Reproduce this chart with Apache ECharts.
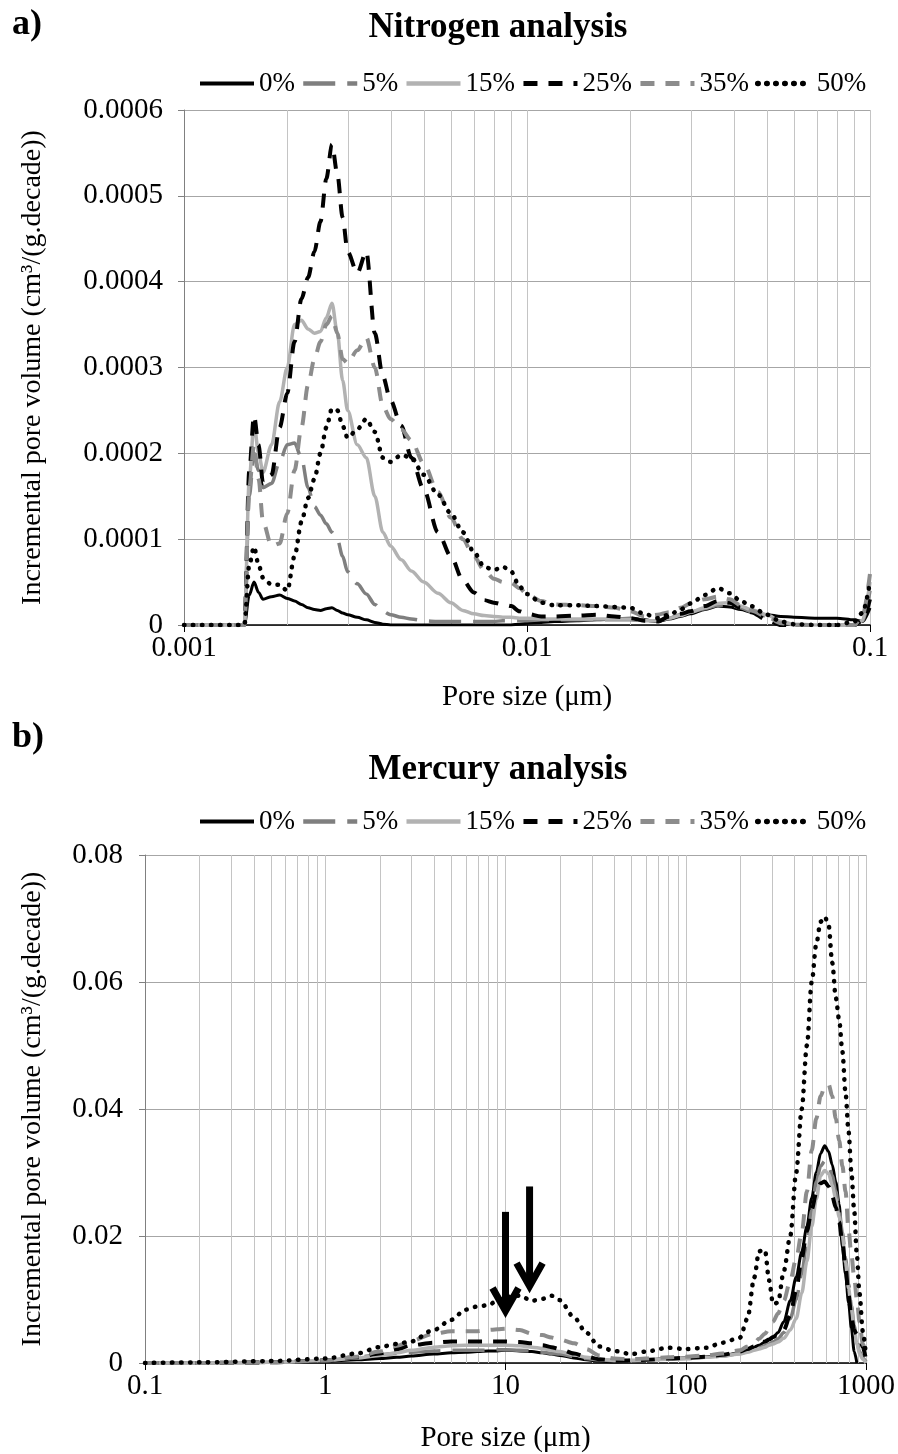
<!DOCTYPE html>
<html>
<head>
<meta charset="utf-8">
<script src="https://cdn.jsdelivr.net/npm/echarts@6/dist/echarts.min.js"></script>
<style>html,body{margin:0;padding:0;background:#fff}#c{width:898px;height:1454px}</style>
</head>
<body>
<div id="c"></div>
<script>
const SERIES_NAMES = ['0%', '5%', '15%', '25%', '35%', '50%'];

// a) Nitrogen analysis — pore size (µm); volumes in 1e-6 cm3/(g.decade)
const N2_UNIT = 1e-6;
const n2Size = [0.001,0.0014,0.0015,0.00155,0.0016,0.00165,0.0017,0.0018,0.0019,0.002,0.0021,0.0022,0.0023,0.0024,0.0025,0.0026,0.0027,0.0028,0.0029,0.003,0.0032,0.0034,0.0036,0.0038,0.004,0.0043,0.0046,0.005,0.0055,0.006,0.0065,0.007,0.0075,0.008,0.0085,0.009,0.0095,0.01,0.011,0.012,0.014,0.016,0.018,0.02,0.022,0.024,0.026,0.028,0.03,0.033,0.036,0.039,0.042,0.045,0.05,0.055,0.06,0.07,0.08,0.09,0.095,0.1];
const n2_0  = [0,0,0,35,50,38,30,33,35,31, 28,24,20,18,17,19,20,17,14,12, 9,6,3,1,0,0,0,0,0,0, 0,0,0,0,0,0,1,2,3,4, 5,6,7,8,6,4,7,10,13,18, 22,21,18,15,12,10,9,8,8,6, 4,20];
const n2_5  = [0,0,0,150,200,180,160,165,190,210, 212,195,160,138,128,118,108,100,80,62, 48,36,24,16,12,9,7,5,4,4, 4,4,4,4,5,5,5,5,6,6, 6,6,6,6,5,5,8,12,15,19, 23,24,20,16,10,4,0,0,0,0, 4,40];
const n2_15 = [0,0,0,170,235,200,178,210,260,300, 350,355,345,340,342,358,375,340,285,250, 210,195,150,108,92,76,63,50,37,26, 17,13,11,10,9,9,8,8,7,7, 7,7,7,7,5,5,8,11,15,20, 25,26,22,18,12,4,1,0,0,0, 5,50];
const n2_25 = [0,0,0,180,244,210,165,175,230,270, 330,380,405,435,470,520,560,525,475,435, 410,435,340,290,262,232,195,158,108,80, 52,38,29,26,24,22,16,13,10,10, 11,12,10,8,5,4,10,13,16,22, 28,26,20,15,6,0,0,0,0,0, 5,30];
const n2_35 = [0,0,0,160,210,170,120,92,95,130, 180,230,280,310,330,350,360,340,310,305, 320,335,300,255,240,228,215,188,155,125, 100,80,64,54,50,49,43,36,28,24, 23,22,20,16,10,12,15,20,25,30, 33,30,23,17,10,2,0,0,0,0, 10,60];
const n2_50 = [0,0,0,70,91,70,55,47,47,40, 80,120,148,170,200,230,252,250,232,218, 228,240,225,195,190,198,195,175,152,130, 108,85,68,64,68,62,45,36,26,23, 23,22,21,20,13,8,12,18,25,35, 43,37,28,22,12,4,1,0,0,4, 14,50];

// b) Mercury analysis — pore size (µm); volumes in 1e-4 cm3/(g.decade)
const HG_UNIT = 1e-4;
const hgSize = [0.1,0.2,0.5,1,1.5,2,2.5,3,4,5, 6,7,8,9,10,12,14,16,18,20, 24,28,33,40,50,60,80,100,130,160, 200,220,240,255,275,290,305,325,350,380, 410,440,470,500,530,560,590,620,650,680, 710,740,770,800,830,860,890,920,960,1000];
const hg_0  = [0,0,1,3,5,7,9,11,14,16, 17,18,19,19,20,19,18,16,14,12, 8,5,3,2,3,5,7,8,10,12, 16,20,25,28,33,37,40,48,65,98, 135,175,215,260,300,330,342,333,312,285, 250,182,140,95,55,18,0,null,null,null];
const hg_5  = [0,0,1,4,9,13,15,17,19,20, 20,20,20,21,21,20,19,17,15,14, 10,7,5,4,4,5,6,7,9,11, 15,18,21,24,27,30,33,38,48,70, 100,140,190,240,285,310,318,312,295,270, 240,205,165,125,90,60,35,18,8,2];
const hg_15 = [0,0,1,4,8,12,16,20,25,27, 28,28,28,28,28,27,25,23,20,18, 13,9,6,4,4,5,6,7,9,11, 14,17,20,22,25,28,30,33,39,52, 70,110,160,215,258,295,303,298,280,258, 230,200,158,118,85,55,30,15,6,0];
const hg_25 = [0,0,1,4,9,15,22,28,32,34, 34,34,34,34,34,33,31,28,25,22, 15,10,6,4,4,5,7,8,10,13, 18,22,26,30,34,37,41,45,52,75, 115,165,208,242,268,283,286,278,262,245, 222,190,150,108,72,52,45,40,25,5];
const hg_35 = [0,0,1,4,10,18,27,35,46,50, 50,50,52,53,54,52,46,44,40,37, 31,22,12,7,6,7,9,10,12,15, 20,26,32,38,46,55,65,78,98,130, 165,205,270,335,385,420,435,439,420,385, 350,310,270,210,170,135,100,65,30,12];
const hg_50 = [0,1,3,7,15,25,30,34,52,68, 84,89,91,98,104,106,98,101,106,99, 72,48,26,19,14,18,24,22,24,32, 40,70,135,176,178,130,93,95,145,200, 300,400,500,600,660,695,703,690,630,575, 540,490,425,365,300,240,170,110,50,10];

// arrows in b): pore size, start volume, tip volume
const arrowSize = [10, 13.6];
const arrowFrom = [0.0238, 0.0278];
const arrowTo   = [0.0071, 0.0110];

const n2Tick = ['0.001', '0.01', '0.1'];
const hgTick = ['0.1', '1', '10', '100', '1000'];

const FONT = '"Liberation Serif", "Times New Roman", serif';
const lg = Math.log10;
const STYLES = [
  {color: '#000000', width: 3, type: 'solid'},
  {color: '#7f7f7f', width: 3.5, type: [32, 12]},
  {color: '#b2b2b2', width: 3.5, type: 'solid'},
  {color: '#000000', width: 4, type: [14, 11]},
  {color: '#8c8c8c', width: 4, type: [14, 11]},
  {color: '#000000', width: 4.5, type: [0.5, 8.5], cap: 'round'}
];

function pairs(xs, ys, unit) {
  return xs.map((x, i) => [lg(x), ys[i] == null ? '-' : ys[i] * unit]);
}
function lineSeries(idx, xs, ys, unit, gi) {
  const s = STYLES[idx];
  return {
    type: 'line', name: SERIES_NAMES[idx], xAxisIndex: gi, yAxisIndex: gi,
    data: pairs(xs, ys, unit), showSymbol: false, symbol: 'none',
    smooth: 0.3, smoothMonotone: 'x',
    lineStyle: {color: s.color, width: s.width, type: s.type, cap: s.cap || 'butt'},
    itemStyle: {color: s.color}, z: 3 + idx, silent: true, animation: false
  };
}
function minorGrid(gi, lo, hi) {
  const data = [];
  for (let e = lo; e < hi; e++) for (let k = 2; k <= 9; k++) data.push([e + lg(k), 0]);
  return {
    type: 'custom', xAxisIndex: gi, yAxisIndex: gi, data, z: 1, silent: true, animation: false,
    encode: {x: 0, y: 1},
    renderItem: (params, api) => {
      const p = api.coord([api.value(0), 0]);
      const cs = params.coordSys;
      const x = Math.round(p[0]) + 0.5;
      return {type: 'line', shape: {x1: x, y1: cs.y, x2: x, y2: cs.y + cs.height},
              style: {stroke: '#c4c4c4', lineWidth: 1}};
    }
  };
}
function xAxisCfg(gi, lo, hi, ticks, nameGap) {
  return {
    gridIndex: gi, type: 'value', min: lo, max: hi, interval: 1,
    axisLine: {show: true, onZero: false, lineStyle: {color: '#000', width: 1.5}},
    axisTick: {show: true, length: 7, lineStyle: {color: '#000'}},
    axisLabel: {formatter: v => ticks[Math.round(v - lo)], fontSize: 29, fontFamily: FONT, color: '#000', margin: 9},
    splitLine: {show: true, lineStyle: {color: '#c4c4c4', width: 1}},
    name: 'Pore size (μm)', nameLocation: 'middle', nameGap: nameGap,
    nameTextStyle: {fontSize: 29, fontFamily: FONT, color: '#000'}
  };
}
function yAxisCfg(gi, max, interval, digits, nameGap, margin) {
  return {
    gridIndex: gi, type: 'value', min: 0, max: max, interval: interval,
    axisLine: {show: true, onZero: false, lineStyle: {color: '#808080', width: 1}},
    axisTick: {show: true, length: 6, lineStyle: {color: '#808080'}},
    axisLabel: {formatter: v => (v === 0 ? '0' : v.toFixed(digits)), fontSize: 29, fontFamily: FONT, color: '#000', margin: margin},
    splitLine: {show: true, lineStyle: {color: '#a6a6a6', width: 1}},
    name: 'Incremental pore volume (cm³/(g.decade))', nameLocation: 'middle', nameRotate: 90, nameGap: nameGap,
    nameTextStyle: {fontSize: 28, fontFamily: FONT, color: '#000'}
  };
}
function legendCfg(top) {
  return {
    data: SERIES_NAMES.map((n, i) => ({
      name: n,
      itemStyle: {opacity: 0},
      lineStyle: {color: STYLES[i].color, width: STYLES[i].width + 1, type: STYLES[i].type, cap: STYLES[i].cap || 'butt', opacity: 1}
    })),
    left: 193, top: top, itemWidth: 54, itemHeight: 14, itemGap: 6,
    textStyle: {fontSize: 27, fontFamily: FONT, color: '#000'}, selectedMode: false
  };
}
function txt(text, x, y, size, align) {
  return {type: 'text', x: x, y: y, silent: true,
    style: {text: text, fill: '#000', font: 'bold ' + size + 'px ' + FONT,
            align: align, textAlign: align, verticalAlign: 'middle', textVerticalAlign: 'middle'}};
}

const arrowSeries = {
  type: 'custom', xAxisIndex: 1, yAxisIndex: 1, z: 10, silent: true, animation: false,
  data: arrowSize.map((s, i) => [lg(s), arrowFrom[i], arrowTo[i]]),
  encode: {x: 0, y: [1, 2]},
  renderItem: (params, api) => {
    const top = api.coord([api.value(0), api.value(1)]);
    const tip = api.coord([api.value(0), api.value(2)]);
    return {type: 'group', children: [
      {type: 'line', shape: {x1: top[0], y1: top[1], x2: tip[0], y2: tip[1] - 8},
       style: {stroke: '#000', lineWidth: 7}},
      {type: 'polyline', shape: {points: [[tip[0] - 13, tip[1] - 30], [tip[0], tip[1] - 7], [tip[0] + 13, tip[1] - 30]]},
       style: {stroke: '#000', lineWidth: 7, fill: null, lineJoin: 'miter'}}
    ]};
  }
};

const n2Sets = [n2_0, n2_5, n2_15, n2_25, n2_35, n2_50];
const hgSets = [hg_0, hg_5, hg_15, hg_25, hg_35, hg_50];
const series = [minorGrid(0, -3, -1), minorGrid(1, -1, 3)];
n2Sets.forEach((ys, i) => series.push(lineSeries(i, n2Size, ys, N2_UNIT, 0)));
hgSets.forEach((ys, i) => series.push(lineSeries(i, hgSize, ys, HG_UNIT, 1)));
series.push(arrowSeries);

const chart = echarts.init(document.getElementById('c'), null, {width: 898, height: 1454});
chart.setOption({
  backgroundColor: '#fff',
  animation: false,
  grid: [
    {left: 184, top: 110, width: 686, height: 515, containLabel: false},
    {left: 145, top: 855, width: 725, height: 510, containLabel: false}
  ],
  xAxis: [xAxisCfg(0, -3, -1, n2Tick, 58), xAxisCfg(1, -1, 3, hgTick, 61)],
  yAxis: [yAxisCfg(0, 0.0006, 0.0001, 4, 137, 21), yAxisCfg(1, 0.08, 0.02, 2, 98, 22)],
  legend: [legendCfg(65), legendCfg(803)],
  graphic: [
    txt('a)', 12, 25, 36, 'left'),
    txt('Nitrogen analysis', 498, 28, 35, 'center'),
    txt('b)', 12, 738, 36, 'left'),
    txt('Mercury analysis', 498, 770, 35, 'center')
  ],
  series: series
});
</script>
</body>
</html>
